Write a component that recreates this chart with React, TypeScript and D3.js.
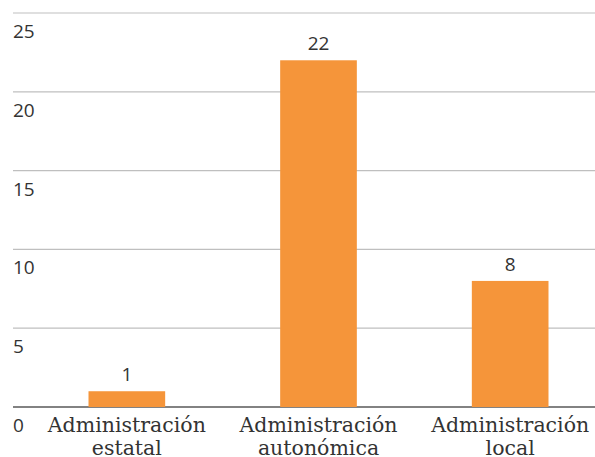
import React from 'react';
import * as d3 from 'd3';

const categories: string[][] = [
  ['Administración', 'estatal'],
  ['Administración', 'autonómica'],
  ['Administración', 'local'],
];
const values = [1, 22, 8];
const yTicks = [0, 5, 10, 15, 20, 25];

const width = 595;
const height = 457;

const App: React.FC = () => {
  const x = d3
    .scaleBand<number>()
    .domain(d3.range(values.length))
    .range([31, 606])
    .paddingInner(0.6)
    .paddingOuter(0.3);

  const y = d3.scaleLinear().domain([0, 25]).range([407, 13]);

  const sans = "'Open Sans', 'Noto Sans', sans-serif";
  const serif = "'DejaVu Serif', serif";

  return (
    <svg
      width={width}
      height={height}
      style={{ position: 'absolute', left: 0, top: 0, background: '#fff' }}
    >
      {/* grid + tick labels (labels sit below their lines) */}
      {yTicks.map(t => (
        <g key={t}>
          <line
            x1={13}
            x2={width}
            y1={y(t)}
            y2={y(t)}
            stroke={t === 0 ? '#595959' : '#bfbfbf'}
            strokeWidth={t === 0 ? 1.5 : 1.2}
          />
          <text
            x={13}
            y={y(t) + 25}
            fontFamily={sans}
            fontSize={19}
            fill="#333"
          >
            {t}
          </text>
        </g>
      ))}

      {values.map((v, i) => (
        <g key={i}>
          <rect
            x={x(i)!}
            y={y(v)}
            width={x.bandwidth()}
            height={y(0) - y(v)}
            fill="#f5953a"
          />
          <text
            x={x(i)! + x.bandwidth() / 2}
            y={y(v) - 10}
            textAnchor="middle"
            fontFamily={sans}
            fontSize={19}
            fill="#333"
          >
            {v}
          </text>
          {categories[i].map((line, j) => (
            <text
              key={j}
              x={x(i)! + x.bandwidth() / 2}
              y={432 + j * 23}
              textAnchor="middle"
              fontFamily={serif}
              fontSize={20.5}
              fill="#333"
            >
              {line}
            </text>
          ))}
        </g>
      ))}
    </svg>
  );
};

export default App;
